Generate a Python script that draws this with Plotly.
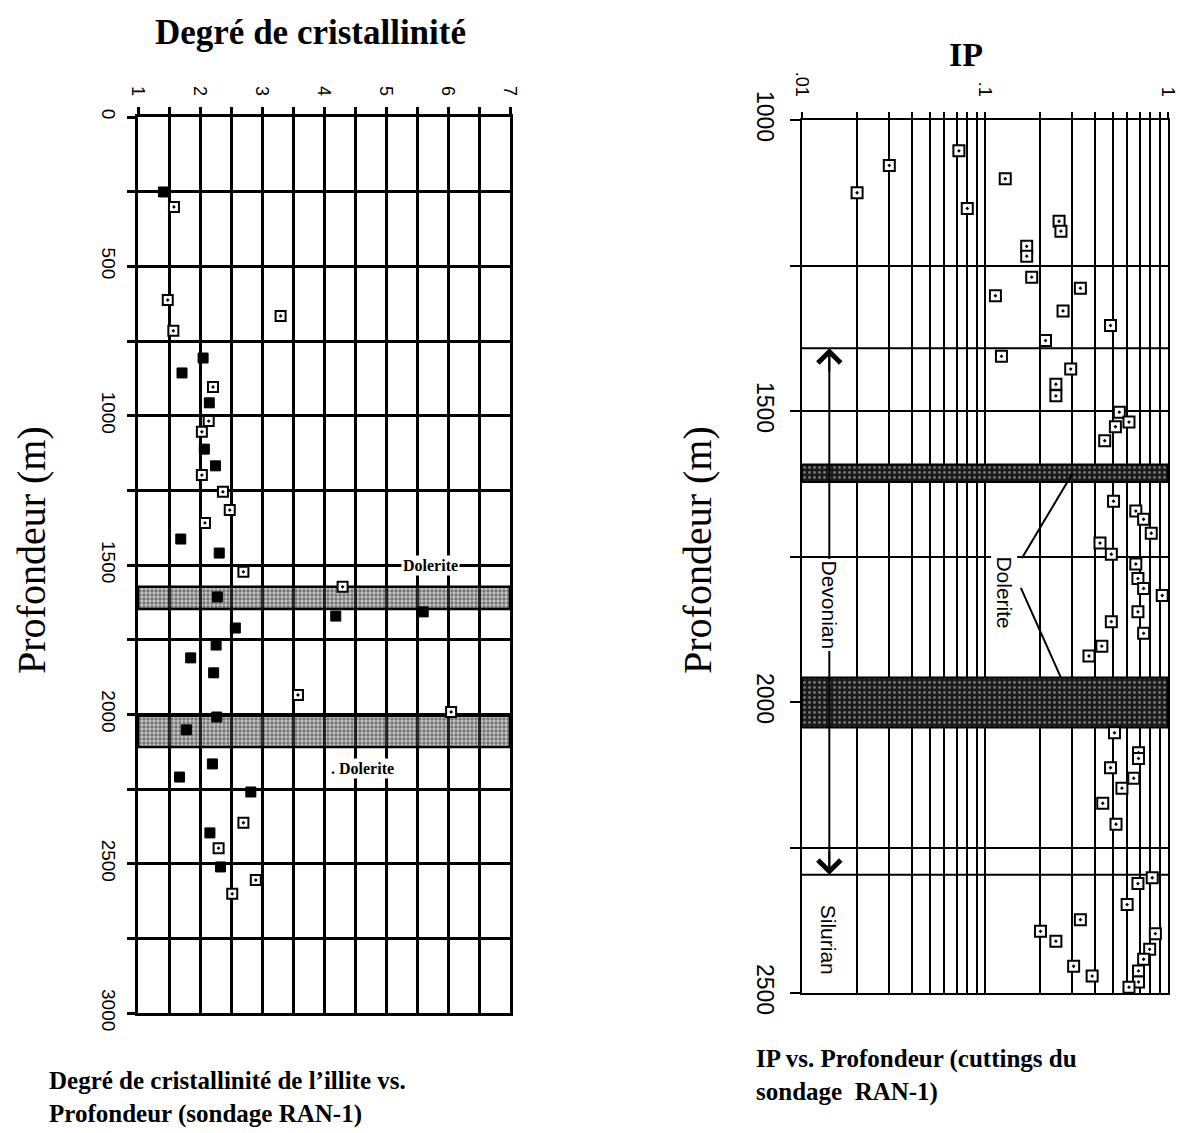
import math
import plotly.graph_objects as go

# ---------------- Left panel: illite crystallinity vs depth (RAN-1) ----------------
ci_ticks = [1, 2, 3, 4, 5, 6, 7]
ci_depth_ticks = [0, 500, 1000, 1500, 2000, 2500, 3000]

# samples drawn as solid squares
ci_depth_solid = [251, 807, 857, 957, 1112, 1168, 1413, 1460, 1607, 1657, 1671, 1711,
                  1768, 1811, 1861, 2009, 2052, 2166, 2210, 2260, 2397, 2511]
ci_value_solid = [1.41, 2.05, 1.71, 2.15, 2.07, 2.25, 1.69, 2.31, 2.28, 5.60, 4.19, 2.57,
                  2.26, 1.85, 2.22, 2.27, 1.78, 2.20, 1.67, 2.82, 2.16, 2.33]
# samples drawn as open squares
ci_depth_open = [301, 613, 666, 716, 904, 1018, 1054, 1199, 1255, 1316, 1359, 1523,
                 1573, 1935, 1992, 2363, 2448, 2555, 2601]
ci_value_open = [1.58, 1.48, 3.30, 1.57, 2.21, 2.14, 2.03, 2.03, 2.37, 2.48, 2.08, 2.70,
                 4.30, 3.58, 6.05, 2.70, 2.30, 2.90, 2.52]

ci_dolerite_top = [1573, 2005]
ci_dolerite_bottom = [1647, 2109]

# ---------------- Right panel: IP vs depth (RAN-1 cuttings) ----------------
ip_decades = [0.01, 0.1, 1]
ip_decade_labels = [".01", ".1", "1"]
ip_depth_ticks = [1000, 1500, 2000, 2500]

ip_depth = [1053, 1078, 1101, 1125, 1152, 1174, 1191, 1217, 1234, 1270,
            1289, 1302, 1328, 1353, 1379, 1406, 1428, 1454, 1474, 1502,
            1519, 1527, 1551, 1655, 1672, 1686, 1710, 1727, 1746, 1763,
            1788, 1805, 1817, 1845, 1862, 1882, 1904, 1921, 2053, 2087,
            2097, 2113, 2131, 2148, 2174, 2210, 2302, 2312, 2348, 2374,
            2394, 2398, 2411, 2425, 2442, 2454, 2462, 2471, 2481, 2490]
ip_value = [0.072, 0.030, 0.129, 0.020, 0.080, 0.254, 0.260, 0.169, 0.169, 0.180,
            0.332, 0.114, 0.267, 0.485, 0.214, 0.123, 0.294, 0.244, 0.244, 0.542,
            0.612, 0.516, 0.451, 0.504, 0.667, 0.736, 0.810, 0.425, 0.490, 0.667,
            0.685, 0.736, 0.930, 0.685, 0.490, 0.736, 0.435, 0.370, 0.510, 0.690,
            0.690, 0.485, 0.650, 0.560, 0.440, 0.520, 0.820, 0.685, 0.598, 0.332,
            0.201, 0.853, 0.244, 0.794, 0.736, 0.305, 0.690, 0.385, 0.690, 0.612]

ip_dolerite_top = [1592, 1958]
ip_dolerite_bottom = [1622, 2044]
formation_bounds = [1392, 2297]          # top Devonian, Devonian/Silurian contact
formation_names = ["Devonian", "Silurian"]
formation_label_depth = [1833, 2409]
formation_label_ip = 0.0141
dolerite_label = (0.128, 1811)
dolerite_leaders = [((0.159, 1753), (0.301, 1607)), ((0.157, 1804), (0.260, 1958))]

W, H = 1180, 1133
SERIF = "Liberation Serif, Times New Roman, serif"
SANS = "Liberation Sans, Arial, sans-serif"


def px_x(v):
    return v / W


def px_y(v):
    return 1 - v / H


fig = go.Figure()

# dolerite sills on the left panel (stippled bands)
ci_xmin, ci_xmax = ci_ticks[0], ci_ticks[-1]
for top, bot in zip(ci_dolerite_top, ci_dolerite_bottom):
    fig.add_trace(go.Scatter(
        x=[ci_xmin, ci_xmax, ci_xmax, ci_xmin, ci_xmin], y=[top, top, bot, bot, top],
        mode="lines", fill="toself", fillcolor="rgba(110,110,110,0.45)",
        fillpattern=dict(shape=".", fgcolor="rgba(0,0,0,0.85)", bgcolor="rgba(120,120,120,0.40)",
                         size=4, solidity=0.55),
        line=dict(color="black", width=2.5), xaxis="x", yaxis="y",
        hoverinfo="skip", showlegend=False))

fig.add_trace(go.Scatter(
    x=ci_value_solid, y=ci_depth_solid, mode="markers", xaxis="x", yaxis="y",
    marker=dict(symbol="square", size=10, color="black", line=dict(color="black", width=1)),
    showlegend=False))
fig.add_trace(go.Scatter(
    x=ci_value_open, y=ci_depth_open, mode="markers", xaxis="x", yaxis="y",
    marker=dict(symbol="square-dot", size=10, color="white", line=dict(color="black", width=2)),
    showlegend=False))

# dolerite sills on the right panel (dense dark bands)
ip_xmin, ip_xmax = ip_decades[0], ip_decades[-1]
for top, bot in zip(ip_dolerite_top, ip_dolerite_bottom):
    fig.add_trace(go.Scatter(
        x=[ip_xmin, ip_xmax, ip_xmax, ip_xmin, ip_xmin], y=[top, top, bot, bot, top],
        mode="lines", fill="toself", fillcolor="#1c1c1c",
        fillpattern=dict(shape=".", fgcolor="rgba(255,255,255,0.8)", bgcolor="#1a1a1a",
                         size=5, solidity=0.25),
        line=dict(color="black", width=2), xaxis="x2", yaxis="y2",
        hoverinfo="skip", showlegend=False))

# formation boundaries
for d in formation_bounds:
    fig.add_trace(go.Scatter(
        x=[ip_xmin, ip_xmax], y=[d, d], mode="lines", xaxis="x2", yaxis="y2",
        line=dict(color="black", width=2), hoverinfo="skip", showlegend=False))

# Devonian extent arrow
fig.add_trace(go.Scatter(
    x=[formation_label_ip, formation_label_ip], y=formation_bounds, mode="lines",
    xaxis="x2", yaxis="y2", line=dict(color="black", width=2),
    hoverinfo="skip", showlegend=False))

# leader lines from the "Dolerite" label to the sills
for (x0, y0), (x1, y1) in dolerite_leaders:
    fig.add_trace(go.Scatter(
        x=[x0, x1], y=[y0, y1], mode="lines", xaxis="x2", yaxis="y2",
        line=dict(color="black", width=2), hoverinfo="skip", showlegend=False))

fig.add_trace(go.Scatter(
    x=ip_value, y=ip_depth, mode="markers", xaxis="x2", yaxis="y2",
    marker=dict(symbol="square-dot", size=11, color="white", line=dict(color="black", width=2)),
    showlegend=False))

# axes
ci_grid_x = [ci_xmin + 0.5 * i for i in range(int((ci_xmax - ci_xmin) * 2) + 1)]
ci_grid_x_text = [str(int(v)) if v in ci_ticks else "" for v in ci_grid_x]
ci_grid_y = list(range(ci_depth_ticks[0], ci_depth_ticks[-1] + 1, 250))
ci_grid_y_text = [str(v) if v in ci_depth_ticks else "" for v in ci_grid_y]

ip_grid_x = []
for dec in ip_decades[:-1]:
    ip_grid_x += [dec * k for k in range(1, 10)]
ip_grid_x.append(ip_decades[-1])
ip_grid_x_text = []
for v in ip_grid_x:
    lab = ""
    for dv, dl in zip(ip_decades, ip_decade_labels):
        if abs(v - dv) < 1e-9:
            lab = dl
    ip_grid_x_text.append(lab)
ip_grid_y = list(range(ip_depth_ticks[0], ip_depth_ticks[-1] + 1, 250))
ip_grid_y_text = [str(v) if v in ip_depth_ticks else "" for v in ip_grid_y]

common = dict(showgrid=True, gridcolor="black", zeroline=False, showline=True,
              linecolor="black", mirror=True, ticks="outside", tickcolor="black",
              tickangle=90, ticklabeloverflow="allow")

fig.update_layout(
    width=W, height=H, paper_bgcolor="white", plot_bgcolor="white",
    margin=dict(l=0, r=0, t=0, b=0, autoexpand=False), showlegend=False,
    xaxis=dict(domain=[px_x(138), px_x(510)], range=[ci_xmin, ci_xmax], side="top",
               anchor="y", tickmode="array", tickvals=ci_grid_x, ticktext=ci_grid_x_text,
               gridwidth=2.5, linewidth=2.5, ticklen=7, tickwidth=2.5, ticklabelstandoff=5,
               tickfont=dict(family=SANS, size=18, color="black"), **common),
    yaxis=dict(domain=[px_y(1013), px_y(117)], range=[ci_depth_ticks[-1], ci_depth_ticks[0]],
               anchor="x", tickmode="array", tickvals=ci_grid_y, ticktext=ci_grid_y_text,
               gridwidth=2.5, linewidth=2.5, ticklen=8, tickwidth=2.5, ticklabelstandoff=2,
               tickfont=dict(family=SANS, size=19, color="black"), **common),
    xaxis2=dict(domain=[px_x(802), px_x(1168)], type="log",
                range=[math.log10(ip_xmin), math.log10(ip_xmax)], side="top", anchor="y2",
                tickmode="array", tickvals=ip_grid_x, ticktext=ip_grid_x_text,
                gridwidth=2, linewidth=2, ticklen=6, tickwidth=2, ticklabelstandoff=9,
                tickfont=dict(family=SANS, size=18, color="black"), **common),
    yaxis2=dict(domain=[px_y(993), px_y(120)], range=[ip_depth_ticks[-1], ip_depth_ticks[0]],
                anchor="x2", tickmode="array", tickvals=ip_grid_y, ticktext=ip_grid_y_text,
                gridwidth=2, linewidth=2, ticklen=10, tickwidth=2, ticklabelstandoff=5,
                tickfont=dict(family=SANS, size=23, color="black"), **common),
)


def paper_text(text, x, y, size, family=SERIF, xanchor="center", angle=0):
    return dict(text=text, x=px_x(x), y=px_y(y), xref="paper", yref="paper",
                xanchor=xanchor, yanchor="middle", align="left", showarrow=False,
                textangle=angle, font=dict(family=family, size=size, color="black"))


ann = []
# titles
ann.append(paper_text("<b>Degré de cristallinité</b>", 310, 33, 35))
ann.append(paper_text("<b>IP</b>", 966, 55, 34))
# depth axis titles
for xc in (31, 697):
    ann.append(paper_text("Profondeur (m)", xc, 550, 40, angle=-90))
# captions
ann.append(paper_text("<b>Degré de cristallinité de l’illite vs.<br>Profondeur (sondage RAN-1)</b>",
                      47, 1097, 25, xanchor="left"))
ann.append(paper_text("<b>IP vs. Profondeur (cuttings du<br>sondage  RAN-1)</b>",
                      754, 1075, 25, xanchor="left"))
# dolerite labels on the left panel
ann.append(dict(text="<b>Dolerite</b>", x=5.72, y=1500, xref="x", yref="y", showarrow=False,
                bgcolor="white", font=dict(family=SERIF, size=16, color="black")))
ann.append(dict(text="<b>. Dolerite</b>", x=4.62, y=2180, xref="x", yref="y", showarrow=False,
                bgcolor="white", font=dict(family=SERIF, size=16, color="black")))
# right panel labels (log axis annotations take log10 positions)
lx = math.log10(formation_label_ip)
for name, d in zip(formation_names, formation_label_depth):
    ann.append(dict(text=name, x=lx, y=d, xref="x2", yref="y2", showarrow=False,
                    textangle=90, bgcolor="white", borderpad=1,
                    font=dict(family=SANS, size=21, color="black")))
ann.append(dict(text="Dolerite", x=math.log10(dolerite_label[0]), y=dolerite_label[1],
                xref="x2", yref="y2", showarrow=False, textangle=90, bgcolor="white",
                font=dict(family=SANS, size=21, color="black")))
# arrowheads for the Devonian interval
ann.append(dict(text="", x=lx, y=formation_bounds[0], xref="x2", yref="y2", showarrow=True,
                ax=0, ay=25, arrowhead=4, arrowsize=2.2, arrowwidth=2, arrowcolor="black"))
ann.append(dict(text="", x=lx, y=formation_bounds[1], xref="x2", yref="y2", showarrow=True,
                ax=0, ay=-25, arrowhead=4, arrowsize=2.2, arrowwidth=2, arrowcolor="black"))

fig.update_layout(annotations=ann)
fig.write_html("out.html")
